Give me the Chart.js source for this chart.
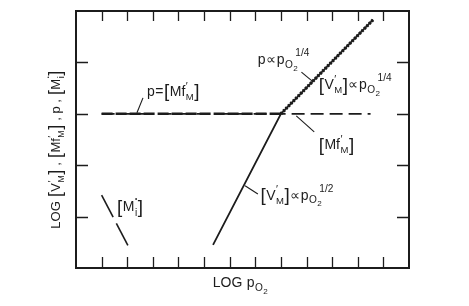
<!DOCTYPE html>
<html><head><meta charset="utf-8">
<script src="https://cdn.jsdelivr.net/npm/chart.js@4/dist/chart.umd.min.js"></script>
<style>html,body{margin:0;padding:0;background:#fff}#wrap{width:469px;height:306px}</style>
</head><body><div id="wrap"><canvas id="c" width="469" height="306"></canvas></div>
<script>
// ---- data (schematic) ----
const xRange = [0, 26];          // LOG pO2 axis span (arbitrary units, 1 per tick)
const yRange = [0, 5];           // LOG concentration axis span
const vmX = [10.7, 16.0, 23.2];  // [V'M] : slope 1/2 then 1/4
const vmY = [0.45, 3.0, 4.83];
const pX  = [2.0, 16.0, 23.2];   // p : = [Mf'M], then ∝ pO2^1/4
const pY  = [3.0, 3.0, 4.83];
const mfX = [2.0, 23.0];         // [Mf'M] : constant
const mfY = [3.0, 3.0];
const mi1X = [2.0, 2.9];         // [Mi] (two pieces, gap at label)
const mi1Y = [1.42, 0.99];
const mi2X = [3.15, 4.05];
const mi2Y = [0.87, 0.44];

const pts = (xs, ys) => xs.map((x, i) => ({x, y: ys[i]}));
const INK = '#1c1c1c';
const FONT = '"Liberation Sans", Arial, sans-serif';

// rich-text pieces
const LB = {t:'[', s:1.35, dy:0.1};
const RB = {t:']', s:1.35, dy:0.1};
const primeSup = {t:'\u2032', s:0.75, dy:-0.45, adv:false};
const subM = {t:'M', s:0.68, dy:0.3};
const subi = {t:'i', s:0.72, dy:0.3};
const pO2 = [{t:'p'}, {t:'O', s:0.72, dy:0.26}, {t:'2', s:0.58, dy:0.48}];
const VM = [LB, {t:'V'}, primeSup, subM, RB];
const MfM = [LB, {t:'Mf'}, primeSup, subM, RB];
const Mi = [LB, {t:'M'}, {t:'\u2022', s:0.45, dy:-0.75, adv:false}, subi, RB];
const sup = t => ({t, s:0.72, dy:-0.58, back:3});

const labels = [
  {x:5.55, y:3.35, parts:[{t:'p'},{t:'='},...MfM], lead:[[5.23,3.31],[4.76,3.02]]},
  {x:14.2, y:3.97, parts:[{t:'p'},{t:'\u221D'},...pO2,sup('1/4')], lead:[[17.6,3.81],[18.47,3.63]]},
  {x:18.95, y:3.48, parts:[...VM,{t:'\u221D'},...pO2,sup('1/4')]},
  {x:18.95, y:2.31, parts:[...MfM], lead:[[17.2,2.96],[18.6,2.65]]},
  {x:14.4, y:1.33, parts:[...VM,{t:'\u221D'},...pO2,sup('1/2')], lead:[[13.2,1.6],[14.2,1.44]]},
  {x:3.2, y:1.1, parts:[...Mi]}
];

function drawRich(ctx, x, y, parts, base, measureOnly){
  let cx = x;
  for (const p of parts){
    const sz = base * (p.s || 1);
    ctx.font = sz.toFixed(1) + 'px ' + FONT;
    if (p.back) cx -= p.back;
    if (!measureOnly) ctx.fillText(p.t, cx, y + (p.dy || 0) * base);
    if (p.adv !== false) cx += ctx.measureText(p.t).width + 0.5;
  }
  return cx - x;
}

const deco = {
  id:'deco',
  afterDraw(chart){
    const {ctx, chartArea:a, scales:{x, y}} = chart;
    ctx.save();
    ctx.strokeStyle = INK; ctx.fillStyle = INK;
    // frame
    ctx.lineWidth = 2;
    ctx.strokeRect(a.left, a.top, a.right - a.left, a.bottom - a.top);
    // inward ticks
    ctx.lineWidth = 1.3;
    const xt = x.ticks.map(t => t.value).filter(v => v > x.min && v < x.max);
    const yt = y.ticks.map(t => t.value).filter(v => v > y.min && v < y.max);
    ctx.beginPath();
    for (const v of xt){
      const px = Math.round(x.getPixelForValue(v)) + 0.5;
      ctx.moveTo(px, a.bottom); ctx.lineTo(px, a.bottom - 11);
      ctx.moveTo(px, a.top); ctx.lineTo(px, a.top + 10);
    }
    for (const v of yt){
      const py = Math.round(y.getPixelForValue(v)) + 0.5;
      ctx.moveTo(a.left, py); ctx.lineTo(a.left + 12, py);
      ctx.moveTo(a.right, py); ctx.lineTo(a.right - 12, py);
    }
    ctx.stroke();
    // labels + leader lines
    ctx.textBaseline = 'alphabetic';
    ctx.lineWidth = 1.1;
    for (const L of labels){
      drawRich(ctx, x.getPixelForValue(L.x), y.getPixelForValue(L.y), L.parts, 14);
      if (L.lead){
        ctx.beginPath();
        ctx.moveTo(x.getPixelForValue(L.lead[0][0]), y.getPixelForValue(L.lead[0][1]));
        ctx.lineTo(x.getPixelForValue(L.lead[1][0]), y.getPixelForValue(L.lead[1][1]));
        ctx.stroke();
      }
    }
    // x title
    const xt2 = [{t:'LOG '}, ...pO2];
    const wx = drawRich(ctx, 0, 0, xt2, 14, true);
    drawRich(ctx, (a.left + a.right) / 2 - wx / 2 - 2, a.bottom + 19, xt2, 14);
    // y title (rotated)
    const yparts = [{t:'LOG '}, ...VM, {t:' , '}, ...MfM, {t:' , p , '}, ...Mi];
    const wy = drawRich(ctx, 0, 0, yparts, 13, true);
    ctx.translate(a.left - 16, (a.top + a.bottom) / 2 + 10);
    ctx.rotate(-Math.PI / 2);
    drawRich(ctx, -wy / 2, 0, yparts, 13);
    ctx.restore();
  }
};

const line = (data, extra) => Object.assign({data, showLine:true, pointRadius:0, borderColor:INK, borderWidth:1.8, fill:false, tension:0}, extra);

new Chart(document.getElementById('c'), {
  type:'scatter',
  data:{datasets:[
    line(pts(mfX, mfY), {borderDash:[13,6], borderWidth:1.8}),
    line(pts(vmX, vmY), {borderWidth:1.8}),
    line(pts(pX, pY), {borderWidth:2.8, segment:{
      borderDash: c => c.p0DataIndex === 0 ? [11,3] : [2,1.5],
      borderWidth: c => c.p0DataIndex === 0 ? 2.6 : 3.4
    }}),
    line(pts(mi1X, mi1Y), {borderWidth:1.6}),
    line(pts(mi2X, mi2Y), {borderWidth:1.6})
  ]},
  options:{
    responsive:false, animation:false,
    layout:{padding:{left:76, right:60, top:11, bottom:38}},
    plugins:{legend:{display:false}, tooltip:{enabled:false}},
    scales:{
      x:{type:'linear', min:xRange[0], max:xRange[1], display:false, ticks:{stepSize:1}},
      y:{type:'linear', min:yRange[0], max:yRange[1], display:false, ticks:{stepSize:1}}
    }
  },
  plugins:[deco]
});
</script></body></html>
